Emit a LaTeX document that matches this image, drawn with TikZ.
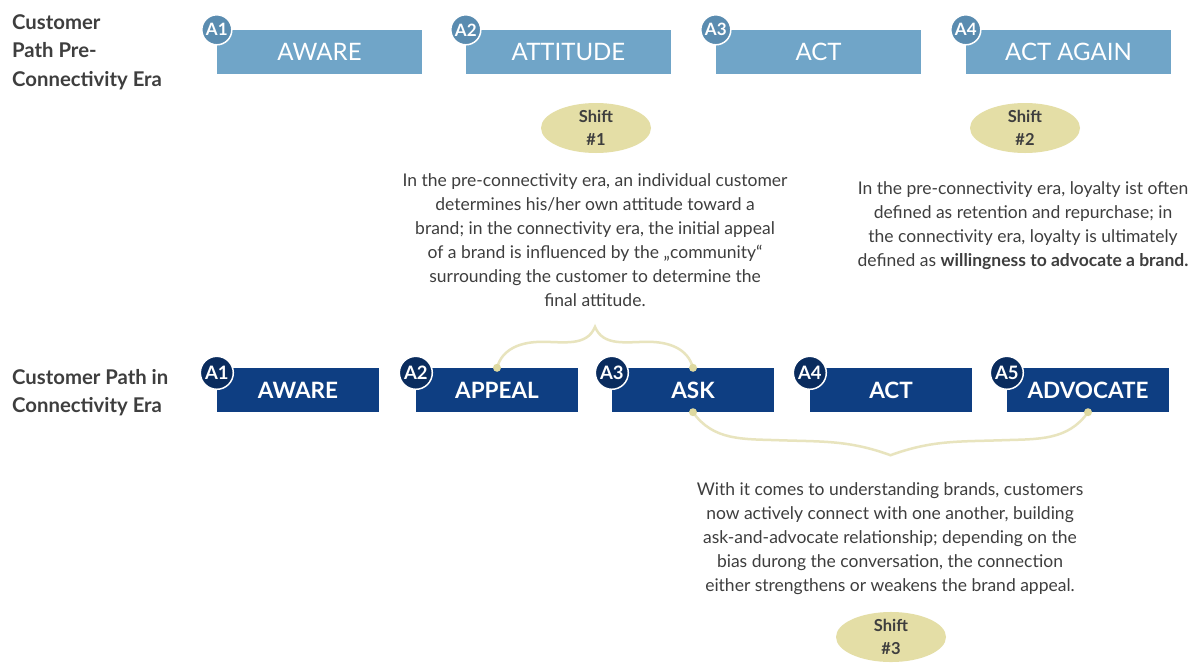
\documentclass[tikz,border=0pt]{standalone}
\usepackage{fontspec}
\setmainfont{Lato}
\usetikzlibrary{shapes.geometric,calc}
\definecolor{topblue}{RGB}{112,165,200}
\definecolor{topbadgeclr}{RGB}{90,140,176}
\definecolor{navy}{RGB}{14,62,130}
\definecolor{navybadgeclr}{RGB}{10,44,94}
\definecolor{khaki}{RGB}{228,222,166}
\definecolor{braceclr}{RGB}{232,228,190}
\definecolor{dotclr}{RGB}{222,217,160}
\definecolor{txt}{RGB}{62,62,62}
\begin{document}
\begin{tikzpicture}[x=1pt,y=1pt,
  topbox/.style={rectangle, fill=topblue, minimum width=205pt, minimum height=44pt, inner sep=0pt, text=white, font=\fontsize{24}{24}\selectfont},
  botbox/.style={rectangle, fill=navy, minimum width=162pt, minimum height=44pt, inner sep=0pt, text=white, font=\bfseries\fontsize{22.5}{22.5}\selectfont},
  topbadge/.style={circle, fill=topbadgeclr, draw=white, line width=1.5pt, minimum size=30pt, inner sep=0pt, text=white, font=\bfseries\fontsize{17}{17}\selectfont},
  botbadge/.style={circle, fill=navybadgeclr, draw=white, line width=1.5pt, minimum size=33pt, inner sep=0pt, text=white, font=\bfseries\fontsize{18.5}{18.5}\selectfont},
  shiftoval/.style={ellipse, fill=khaki, minimum width=110pt, minimum height=50pt, inner sep=0pt, align=center, text=txt, font=\bfseries\fontsize{16.5}{23}\selectfont},
  bodytext/.style={align=center, text=txt, font=\fontsize{17.5}{24}\selectfont, inner sep=0pt},
  eralabel/.style={align=left, anchor=north west, text=txt, font=\bfseries\fontsize{20.3}{28.5}\selectfont, inner sep=0pt},
  bracepath/.style={draw=braceclr, line width=2.5pt},
  bracedot/.style={circle, fill=dotclr, minimum size=8pt, inner sep=0pt}
]
\fill[white] (0,0) rectangle (1201,-662);
\useasboundingbox (0,0) rectangle (1201,-662);

% left labels
\node[eralabel] (l1) at (12,-14) {Customer\\Path Pre-\\Connectivity Era};
\node[eralabel] (l2) at (12,-369) {Customer Path in\\Connectivity Era};

% top row
\node[topbox] (t1) at (319.5,-52) {AWARE};
\node[topbox] (t2) at (568.5,-52) {ATTITUDE};
\node[topbox] (t3) at (818.5,-52) {ACT};
\node[topbox] (t4) at (1068.5,-52) {ACT AGAIN};
\node[topbadge] (ta1) at (t1.north west) {A1};
\node[topbadge] (ta2) at (t2.north west) {A2};
\node[topbadge] (ta3) at (t3.north west) {A3};
\node[topbadge] (ta4) at (t4.north west) {A4};

% bottom row
\node[botbox] (b1) at (298,-390) {AWARE};
\node[botbox] (b2) at (497,-390) {APPEAL};
\node[botbox] (b3) at (693,-390) {ASK};
\node[botbox] (b4) at (891,-390) {ACT};
\node[botbox] (b5) at (1088,-390) {ADVOCATE};
\foreach \i in {1,...,5}{
  \node[botbadge] (ba\i) at ($(b\i.north west)+(0,-5)$) {A\i};
}

% shift ovals
\node[shiftoval] (s1) at (596,-128) {Shift\\\#1};
\node[shiftoval] (s2) at (1025,-128) {Shift\\\#2};
\node[shiftoval] (s3) at (891,-637) {Shift\\\#3};

% texts
\node[bodytext] (x1) at (595,-240) {In the pre-connectivity era, an individual customer\\determines his/her own attitude toward a\\brand; in the connectivity era, the initial appeal\\of a brand is influenced by the „community“\\surrounding the customer to determine the\\final attitude.};
\node[bodytext] (x2) at (1023,-226) {In the pre-connectivity era, loyalty ist often\\defined as retention and repurchase; in\\the connectivity era, loyalty is ultimately\\defined as \textbf{willingness to advocate a brand.}};
\node[bodytext] (x3) at (890,-539) {With it comes to understanding brands, customers\\now actively connect with one another, building\\ask-and-advocate relationship; depending on the\\bias durong the conversation, the connection\\either strengthens or weakens the brand appeal.};

% braces
\coordinate (p1) at ($(b2.north)!0.5!(b3.north)+(0,41)$);
\coordinate (sl1) at ($(b2.north)+(45,26)$);
\coordinate (sr1) at ($(b3.north)+(-45,26)$);
\draw[bracepath] (b2.north) to[out=75,in=180] (sl1) to[out=0,in=-112] (p1)
  to[out=-68,in=180] (sr1) to[out=0,in=105] (b3.north);

\coordinate (p2) at ($(b3.south)!0.5!(b5.south)+(0,-43)$);
\coordinate (sl2) at ($(b3.south)+(85,-28)$);
\coordinate (sr2) at ($(b5.south)+(-85,-28)$);
\draw[bracepath] (b3.south) to[out=-55,in=178] (sl2) to[out=-2,in=160] (p2)
  to[out=20,in=182] (sr2) to[out=2,in=-125] (b5.south);

\node[bracedot] (d1) at (b2.north) {};
\node[bracedot] (d2) at (b3.north) {};
\node[bracedot] (d3) at (b3.south) {};
\node[bracedot] (d4) at (b5.south) {};
\end{tikzpicture}
\end{document}
